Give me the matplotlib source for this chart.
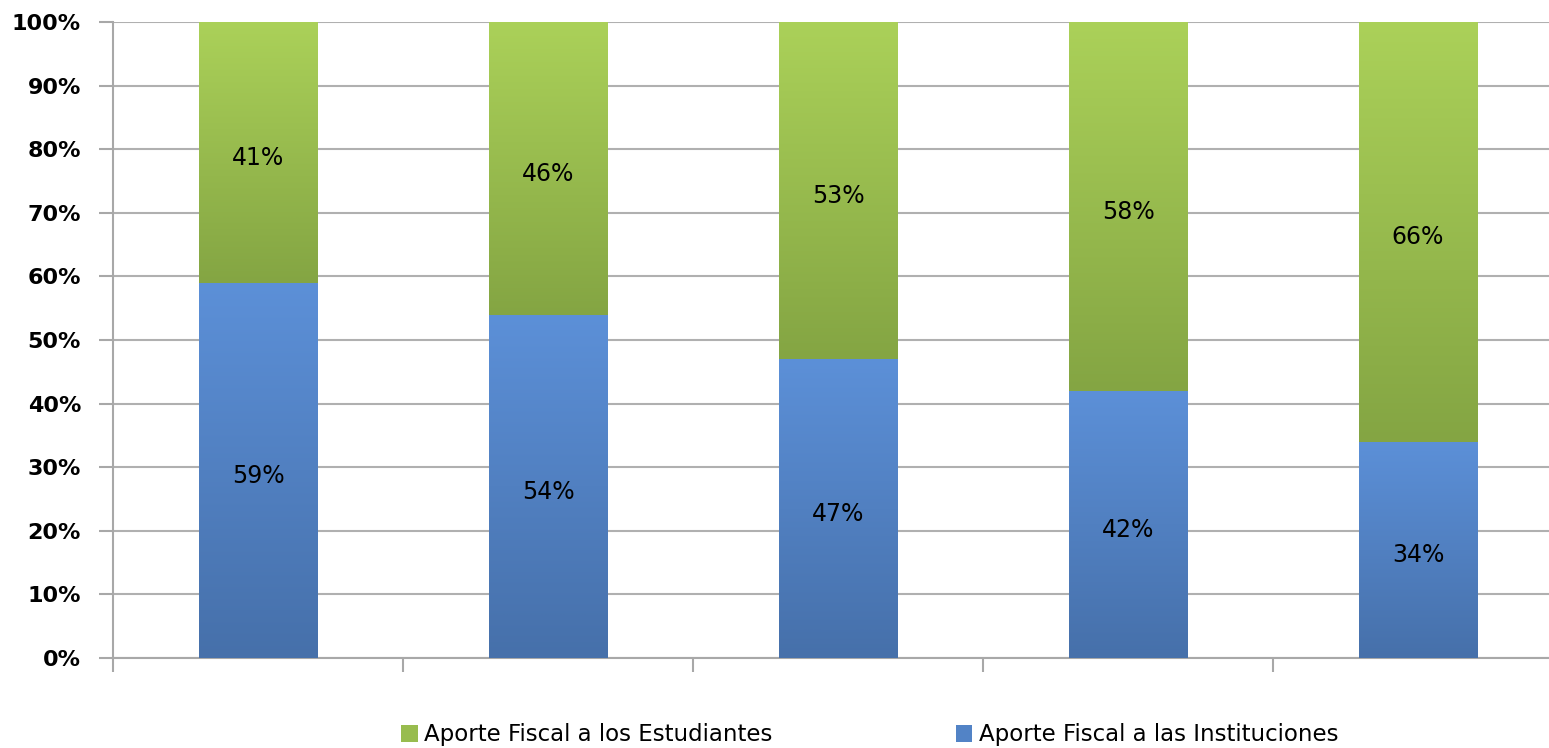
import numpy as np
import matplotlib
matplotlib.use("Agg")
import matplotlib.pyplot as plt
from matplotlib.colors import LinearSegmentedColormap

# datos (porcentajes)
instituciones = [59, 54, 47, 42, 34]
estudiantes = [41, 46, 53, 58, 66]
serie_inst = "Aporte Fiscal a las Instituciones"
serie_est = "Aporte Fiscal a los Estudiantes"
yticks = list(range(0, 101, 10))

plt.rcParams['font.family'] = ['DejaVu Sans']

fig = plt.figure(figsize=(15.49, 7.48), dpi=100)
ax = fig.add_axes([113 / 1549, 90 / 748, 1450 / 1549, 636 / 748])

x = np.arange(len(instituciones))
width = 0.41

# degradados por segmento (claro arriba, oscuro abajo)
cmap_blue = LinearSegmentedColormap.from_list("b", ["#4670aa", "#5c90d8"])
cmap_green = LinearSegmentedColormap.from_list("g", ["#84a543", "#abd159"])
grad = np.linspace(0, 1, 256).reshape(-1, 1)


def gradient_bars(bars, cmap):
    for b in bars:
        x0, y0 = b.get_x(), b.get_y()
        w, h = b.get_width(), b.get_height()
        im = ax.imshow(grad, cmap=cmap, origin="lower", aspect="auto",
                       extent=[x0, x0 + w, y0, y0 + h], zorder=3,
                       interpolation="bicubic")
        im.set_clip_path(b)


b1 = ax.bar(x, instituciones, width, color="#5283c6", label=serie_inst,
            zorder=2, linewidth=0)
b2 = ax.bar(x, estudiantes, width, bottom=instituciones, color="#98bc4e",
            label=serie_est, zorder=2, linewidth=0)
gradient_bars(b1, cmap_blue)
gradient_bars(b2, cmap_green)

for xi, v in zip(x, instituciones):
    ax.annotate(f"{v}%", (xi, v / 2), xytext=(0, -4), textcoords="offset points",
                ha="center", va="center", fontsize=17, color="black", zorder=5)
for xi, v, base in zip(x, estudiantes, instituciones):
    ax.annotate(f"{v}%", (xi, base + v / 2), xytext=(0, -4), textcoords="offset points",
                ha="center", va="center", fontsize=17, color="black", zorder=5)

ax.set_xlim(-0.5, 4.5)
ax.set_ylim(0, 100)
ax.set_yticks(yticks)
ax.set_yticklabels([f"{t}%" for t in yticks], fontsize=16, fontweight="bold")
ax.set_xticks(np.arange(-0.5, 4.5, 1))
ax.set_xticklabels([])
ax.tick_params(axis="y", length=10, width=1.5, color="#a8a8a8", pad=13)
ax.tick_params(axis="x", length=10, width=1.5, color="#a8a8a8", direction="out")
ax.yaxis.grid(True, color="#b0b0b0", linewidth=1.5, zorder=0)
ax.set_axisbelow(True)
for s in ["top", "right"]:
    ax.spines[s].set_visible(False)
ax.spines["left"].set_color("#a8a8a8")
ax.spines["left"].set_linewidth(1.5)
ax.spines["bottom"].set_color("#a8a8a8")
ax.spines["bottom"].set_linewidth(1.5)

handles = [b2, b1]
fig.legend(handles, [serie_est, serie_inst], loc="center",
           bbox_to_anchor=(870 / 1549, 1 - 735 / 748), ncol=2, frameon=False,
           fontsize=16.5, handlelength=0.7, handleheight=0.7, handletextpad=0.3,
           columnspacing=8)

fig.savefig("out.png", dpi=100)
